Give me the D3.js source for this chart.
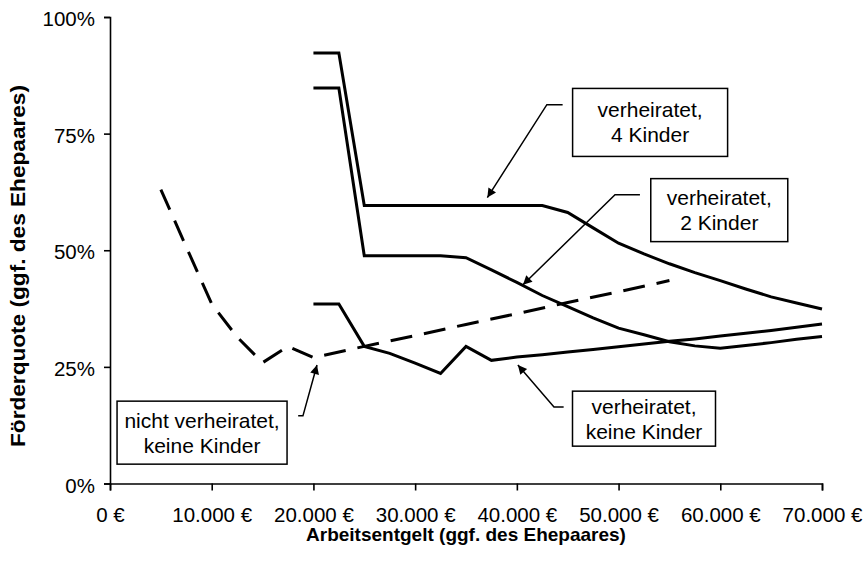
<!DOCTYPE html>
<html>
<head>
<meta charset="utf-8">
<script src="https://cdn.jsdelivr.net/npm/d3@7"></script>
<style>
	body { margin: 0; background: #fff; }
	text { font-family: Arial, "Liberation Sans", sans-serif; fill: #000; }
</style>
</head>
<body>
<script>

//	Einkommen (x) fuer die verheirateten Faelle
var einkommen = [20000, 22500, 25000, 27500, 30000, 32500, 35000, 37500, 40000, 42500,
	45000, 47500, 50000, 52500, 55000, 57500, 60000, 62500, 65000, 67500, 70000];

//	Foerderquote in %
var verh4Kinder = [92.3, 92.3, 59.6, 59.6, 59.6, 59.6, 59.6, 59.6, 59.6, 59.6,
	58.1, 54.8, 51.5, 49.2, 47.1, 45.2, 43.5, 41.7, 40.0, 38.7, 37.4];
var verh2Kinder = [84.8, 84.8, 48.8, 48.8, 48.8, 48.8, 48.4, 45.8, 43.1, 40.3,
	37.9, 35.5, 33.3, 31.9, 30.4, 29.5, 29.0, 29.6, 30.2, 30.9, 31.5];
var verhKeine = [38.5, 38.5, 29.4, 27.9, 25.8, 23.6, 29.4, 26.4, 27.1, 27.6,
	28.2, 28.7, 29.3, 29.9, 30.5, 31.0, 31.6, 32.2, 32.8, 33.5, 34.2];

//	nicht verheiratet (gestrichelt)
var einkommenLedig = [5000, 7500, 10000, 12500, 15000, 17500, 20000, 25000, 30000,
	35000, 40000, 45000, 50000, 55000];
var ledigKeine = [63.0, 50.7, 38.5, 31.4, 25.9, 29.4, 27.0, 29.4, 31.7, 34.1,
	36.4, 38.8, 41.1, 43.5];

var xTicks = [0, 10000, 20000, 30000, 40000, 50000, 60000, 70000];
var yTicks = [0, 25, 50, 75, 100];

var labels = [
	{lines: ["verheiratet,", "4 Kinder"], tip: [37100, 61.3], elbow: [42950, 81.2], start: [44500, 81.2], box: [53100, 77.4], w: 155, h: 68},
	{lines: ["verheiratet,", "2 Kinder"], tip: [40600, 42.6], elbow: [49650, 61.9], start: [52100, 61.9], box: [59900, 58.6], w: 137, h: 63},
	{lines: ["verheiratet,", "keine Kinder"], tip: [40100, 25.4], elbow: [43650, 16.4], start: [44600, 16.4], box: [52500, 13.9], w: 143, h: 55},
	{lines: ["nicht verheiratet,", "keine Kinder"], tip: [20350, 25.4], elbow: [18970, 14.5], start: [18500, 14.5], box: [9050, 10.9], w: 170, h: 63}
];

var W = 866, H = 562;
var margin = {top: 17, right: 44, bottom: 78.5, left: 110},
	width = W - margin.left - margin.right,
	height = H - margin.top - margin.bottom;

var svg = d3.select("body").append("svg")
	.attr("width", W)
	.attr("height", H);

svg.append("defs").append("marker")
	.attr("id", "pfeil")
	.attr("viewBox", "0 -5 10 10")
	.attr("refX", 10)
	.attr("refY", 0)
	.attr("markerWidth", 12)
	.attr("markerHeight", 9)
	.attr("markerUnits", "userSpaceOnUse")
	.attr("orient", "auto")
	.append("path")
	.attr("d", "M0,-5L10,0L0,5Z")
	.attr("fill", "#000");

var g = svg.append("g")
	.attr("transform", "translate(" + margin.left + "," + margin.top + ")");

var x = d3.scaleLinear().domain([0, 70000]).range([0, width]);
var y = d3.scaleLinear().domain([0, 100]).range([height, 0]);

var fmtEuro = function(d) {
	return d3.format(",")(d).replace(/,/g, ".") + " €";
};

//	Achsen
var xAxis = g.append("g")
	.attr("transform", "translate(0," + height + ")")
	.call(d3.axisBottom(x).tickValues(xTicks).tickSize(7).tickFormat(fmtEuro));

var yAxis = g.append("g")
	.call(d3.axisLeft(y).tickValues(yTicks).tickSize(6).tickPadding(9).tickFormat(function(d) { return d + "%"; }));

[xAxis, yAxis].forEach(function(a) {
	a.select(".domain").attr("stroke", "#000").attr("stroke-width", 1.6);
	a.selectAll(".tick line").attr("stroke", "#000").attr("stroke-width", 1.6);
	a.selectAll(".tick text").attr("font-size", 20.5).attr("font-family", "Arial, 'Liberation Sans', sans-serif").attr("fill", "#000");
});
xAxis.selectAll(".tick text").attr("y", 38).attr("dy", 0);
yAxis.selectAll(".tick text").attr("dy", "0.42em");

//	Achsentitel
svg.append("text")
	.attr("x", 466)
	.attr("y", 541)
	.attr("text-anchor", "middle")
	.attr("font-size", 19)
	.attr("font-weight", "bold")
	.text("Arbeitsentgelt (ggf. des Ehepaares)");

svg.append("text")
	.attr("transform", "translate(25,266) rotate(-90)")
	.attr("text-anchor", "middle")
	.attr("font-size", 20)
	.attr("font-weight", "bold")
	.attr("textLength", 362)
	.attr("lengthAdjust", "spacingAndGlyphs")
	.text("Förderquote (ggf. des Ehepaares)");

//	Linien
var line = d3.line()
	.x(function(d) { return x(d[0]); })
	.y(function(d) { return y(d[1]); });

var reihen = [
	{xs: einkommen, ys: verh4Kinder, dash: null},
	{xs: einkommen, ys: verh2Kinder, dash: null},
	{xs: einkommen, ys: verhKeine, dash: null},
	{xs: einkommenLedig, ys: ledigKeine, dash: "22,12"}
];

g.selectAll(".reihe")
	.data(reihen)
	.enter().append("path")
	.attr("class", "reihe")
	.attr("d", function(r) { return line(d3.zip(r.xs, r.ys)); })
	.attr("fill", "none")
	.attr("stroke", "#000")
	.attr("stroke-width", 3)
	.attr("stroke-linejoin", "miter")
	.attr("stroke-dasharray", function(r) { return r.dash; });

//	Beschriftungen mit Pfeilen
var lab = g.selectAll(".lab")
	.data(labels)
	.enter().append("g")
	.attr("class", "lab");

lab.append("path")
	.attr("d", function(d) {
		return "M" + x(d.start[0]) + "," + y(d.start[1]) +
			"L" + x(d.elbow[0]) + "," + y(d.elbow[1]) +
			"L" + x(d.tip[0]) + "," + y(d.tip[1]);
	})
	.attr("fill", "none")
	.attr("stroke", "#000")
	.attr("stroke-width", 1.5)
	.attr("marker-end", "url(#pfeil)");

lab.append("rect")
	.attr("x", function(d) { return x(d.box[0]) - d.w / 2; })
	.attr("y", function(d) { return y(d.box[1]) - d.h / 2; })
	.attr("width", function(d) { return d.w; })
	.attr("height", function(d) { return d.h; })
	.attr("fill", "#fff")
	.attr("stroke", "#000")
	.attr("stroke-width", 1.5);

lab.each(function(d) {
	var t = d3.select(this).append("text")
		.attr("text-anchor", "middle")
		.attr("font-size", 21);
	d.lines.forEach(function(s, i) {
		t.append("tspan")
			.attr("x", x(d.box[0]))
			.attr("y", y(d.box[1]) - 5 + i * 25)
			.text(s);
	});
});

</script>
</body>
</html>
